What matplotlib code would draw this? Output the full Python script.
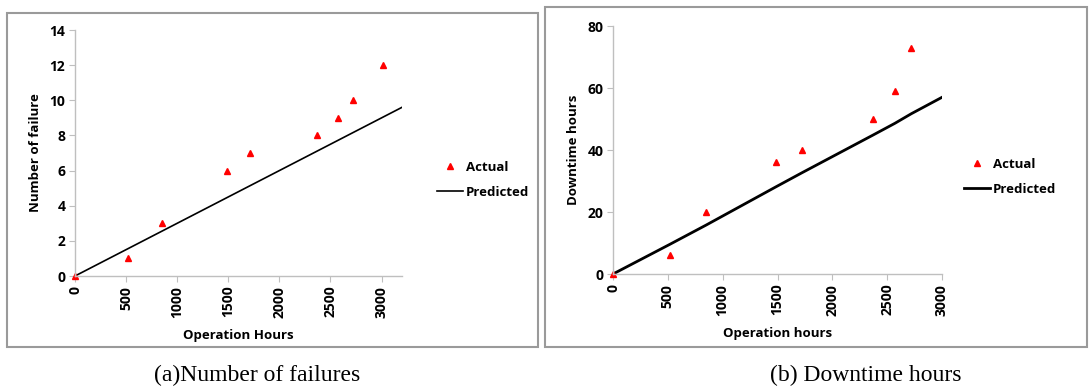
import numpy as np
import matplotlib
matplotlib.use("Agg")
import matplotlib.pyplot as plt
from matplotlib.patches import Rectangle

# (a) number of failures
hours_a = [0, 520, 850, 1490, 1710, 2370, 2570, 2720, 3010]
failures = [0, 1, 3, 6, 7, 8, 9, 10, 12]
pred_hours_a = [0, 3200]
pred_failures = [0, 9.6]

# (b) downtime hours
hours_b = [0, 520, 850, 1490, 1720, 2370, 2570, 2720]
downtime = [0, 6, 20, 36, 40, 50, 59, 73]
pred_hours_b = [0, 520, 850, 1490, 1720, 2370, 2570, 2720, 3000]
pred_downtime = [0, 9.6, 15.8, 28.2, 32.6, 44.8, 48.6, 51.7, 57]

xticks = [0, 500, 1000, 1500, 2000, 2500, 3000]

plt.rcParams['font.family'] = ['Open Sans', 'DejaVu Sans']
plt.rcParams['font.weight'] = 'bold'

fig = plt.figure(figsize=(10.89, 3.89), dpi=100)
W, H = 1089, 389

def fx(px):
    return px / W

def fy(py):
    return 1 - py / H

# panel borders
for x0, y0, x1, y1 in [(7, 13, 538, 347), (545, 7, 1087, 347)]:
    fig.patches.append(Rectangle((fx(x0), fy(y1)), fx(x1 - x0), (y1 - y0) / H,
                                 transform=fig.transFigure, fill=False,
                                 edgecolor='#9a9a9a', linewidth=1.5))

def style(ax):
    for s in ['top', 'right']:
        ax.spines[s].set_visible(False)
    for s in ['left', 'bottom']:
        ax.spines[s].set_color('#bfbfbf')
        ax.spines[s].set_linewidth(1)
    ax.tick_params(axis='both', direction='out', length=4, color='#bfbfbf',
                   labelsize=10, pad=3)
    ax.set_xticks(xticks)
    ax.set_xticklabels([str(t) for t in xticks], rotation=90)
    for lab in ax.get_xticklabels() + ax.get_yticklabels():
        lab.set_fontweight('bold')

def legend(ax, px, py):
    h, l = ax.get_legend_handles_labels()
    ax.legend(h[::-1], l[::-1], loc='center left', bbox_to_anchor=(fx(px), fy(py)),
              bbox_transform=fig.transFigure, frameon=False, fontsize=9.5,
              handlelength=2.0, handletextpad=0.2, labelspacing=0.9,
              borderpad=0, borderaxespad=0)

# left chart
ax1 = fig.add_axes([fx(75), fy(276), fx(402 - 75), (276 - 30) / H])
ax1.plot(pred_hours_a, pred_failures, color='black', linewidth=1.2, label='Predicted')
ax1.plot(hours_a, failures, linestyle='none', marker='^', color='red',
         markersize=4.5, label='Actual', clip_on=False)
ax1.set_xlim(0, 3200)
ax1.set_ylim(0, 14)
ax1.set_yticks(range(0, 15, 2))
style(ax1)
ax1.set_xlabel('Operation Hours', fontsize=9.5, fontweight='bold', labelpad=8)
ax1.set_ylabel('Number of failure', fontsize=9.5, fontweight='bold', labelpad=5)
legend(ax1, 437, 180)

# right chart
ax2 = fig.add_axes([fx(613), fy(274), fx(942 - 613), (274 - 26) / H])
ax2.plot(pred_hours_b, pred_downtime, color='black', linewidth=2, label='Predicted')
ax2.plot(hours_b, downtime, linestyle='none', marker='^', color='red',
         markersize=4.5, label='Actual', clip_on=False)
ax2.set_xlim(0, 3000)
ax2.set_ylim(0, 80)
ax2.set_yticks(range(0, 81, 20))
style(ax2)
ax2.set_xlabel('Operation hours', fontsize=9.5, fontweight='bold', labelpad=8)
ax2.set_ylabel('Downtime hours', fontsize=9.5, fontweight='bold', labelpad=5)
legend(ax2, 964, 177)

# captions
fig.text(fx(257), fy(375), '(a)Number of failures', ha='center', va='center',
         fontsize=17, family='Liberation Serif', fontweight='normal')
fig.text(fx(866), fy(375), '(b) Downtime hours', ha='center', va='center',
         fontsize=17, family='Liberation Serif', fontweight='normal')

fig.savefig('out.png', dpi=100)
